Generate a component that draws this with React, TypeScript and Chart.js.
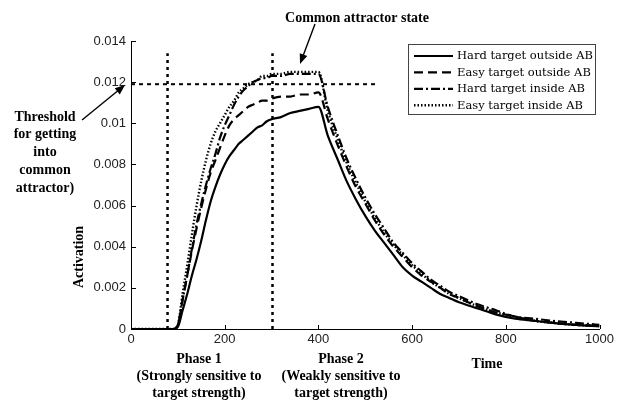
import React, { useEffect, useRef } from "react";
import { Chart, registerables } from "chart.js";
Chart.register(...registerables);

const TIME = [
  0, 90, 100, 110, 120, 130, 140, 150, 160, 170, 180, 190, 200, 210, 220, 230, 240, 250, 260, 270, 280, 290, 300,
  320, 340, 360, 380, 400,
  420, 440, 460, 480, 500, 520, 540, 560, 580, 600, 620, 640, 660, 680, 700,
  740, 780, 820, 860, 900, 950, 1000,
];
const HARD_OUTSIDE = [
  0, 0, 0.0001, 0.0009, 0.0017, 0.0026, 0.0034, 0.0043, 0.0053, 0.0062, 0.0069, 0.0075, 0.008, 0.0084, 0.0087, 0.009, 0.0092, 0.0094, 0.0096, 0.0098, 0.0099, 0.0101, 0.0102,
  0.0103, 0.0105, 0.0106, 0.0107, 0.0108,
  0.0094, 0.0083, 0.0072, 0.0063, 0.0055, 0.0048, 0.0042, 0.0036, 0.003, 0.0026, 0.0023, 0.002, 0.0017, 0.0015, 0.0013,
  0.001, 0.0007, 0.0005, 0.0004, 0.0003, 0.0002, 0.00013,
];
const EASY_OUTSIDE = [
  0, 0, 0.0002, 0.0014, 0.0026, 0.0038, 0.0049, 0.0059, 0.0068, 0.0076, 0.0082, 0.0088, 0.0094, 0.0099, 0.0102, 0.0104, 0.0106, 0.0108, 0.0109, 0.011, 0.0111, 0.0111, 0.0112,
  0.0113, 0.0113, 0.0114, 0.0114, 0.0115,
  0.0102, 0.009, 0.0079, 0.0069, 0.0061, 0.0053, 0.0046, 0.004, 0.0035, 0.003, 0.0026, 0.0023, 0.002, 0.0017, 0.0015,
  0.0011, 0.0008, 0.0006, 0.0004, 0.0003, 0.0002, 0.00015,
];
const HARD_INSIDE = [
  0, 0, 0.0002, 0.0014, 0.0026, 0.0039, 0.0051, 0.0061, 0.007, 0.0078, 0.0085, 0.0093, 0.0099, 0.0104, 0.0109, 0.0113, 0.0116, 0.0118, 0.012, 0.0121, 0.0122, 0.0122, 0.0123,
  0.0123, 0.0124, 0.0124, 0.0124, 0.0124,
  0.0108, 0.0095, 0.0083, 0.0073, 0.0064, 0.0056, 0.0049, 0.0042, 0.0037, 0.0032, 0.0028, 0.0024, 0.0021, 0.0018, 0.0016,
  0.0012, 0.0009, 0.0006, 0.0005, 0.0004, 0.0003, 0.0002,
];
const EASY_INSIDE = [
  0, 0, 0.0002, 0.0017, 0.0031, 0.0046, 0.006, 0.0072, 0.0082, 0.009, 0.0096, 0.01, 0.0104, 0.0108, 0.0111, 0.0115, 0.0117, 0.0119, 0.012, 0.0121, 0.0123, 0.0123, 0.0124,
  0.0124, 0.0125, 0.0125, 0.0125, 0.0125,
  0.0106, 0.0093, 0.0081, 0.0071, 0.0062, 0.0054, 0.0047, 0.0041, 0.0036, 0.0031, 0.0027, 0.0023, 0.002, 0.0017, 0.0015,
  0.0011, 0.0008, 0.0006, 0.0004, 0.0003, 0.0002, 0.00015,
];

const SERIES_LABELS = ["Hard target outside AB", "Easy target outside AB", "Hard target inside AB", "Easy target inside AB"];
const X_TICKS = [0, 200, 400, 600, 800, 1000];
const Y_TICKS = [0, 0.002, 0.004, 0.006, 0.008, 0.01, 0.012, 0.014];
const Y_TICK_LABELS = ["0", "0.002", "0.004", "0.006", "0.008", "0.01", "0.012", "0.014"];
const PHASE_BOUNDS = [78, 302];
const PHASE_LINE_TOP = 0.0134;
const THRESHOLD = 0.0119;
const THRESHOLD_END = 525;

const STYLES = [
  { dash: [] as number[], width: 2.2 },
  { dash: [9, 5], width: 2.2 },
  { dash: [9, 3, 2, 3], width: 2.2 },
  { dash: [1.5, 2], width: 2.4 },
];

function arrow(ctx: CanvasRenderingContext2D, x1: number, y1: number, x2: number, y2: number) {
  ctx.save();
  ctx.strokeStyle = "#000";
  ctx.fillStyle = "#000";
  ctx.lineWidth = 1.4;
  ctx.setLineDash([]);
  const a = Math.atan2(y2 - y1, x2 - x1);
  const hl = 10, hw = 4;
  ctx.beginPath();
  ctx.moveTo(x1, y1);
  ctx.lineTo(x2 - Math.cos(a) * hl * 0.8, y2 - Math.sin(a) * hl * 0.8);
  ctx.stroke();
  ctx.beginPath();
  ctx.moveTo(x2, y2);
  ctx.lineTo(x2 - Math.cos(a) * hl - Math.sin(a) * hw, y2 - Math.sin(a) * hl + Math.cos(a) * hw);
  ctx.lineTo(x2 - Math.cos(a) * hl + Math.sin(a) * hw, y2 - Math.sin(a) * hl - Math.cos(a) * hw);
  ctx.closePath();
  ctx.fill();
  ctx.restore();
}

const decorPlugin = {
  id: "decor",
  afterDraw(chart: any) {
    const ctx: CanvasRenderingContext2D = chart.ctx;
    const xs = chart.scales.x;
    const ys = chart.scales.y;
    const area = chart.chartArea;
    ctx.save();
    // inward ticks
    ctx.strokeStyle = "#000";
    ctx.lineWidth = 1;
    ctx.beginPath();
    for (const v of Y_TICKS) {
      const py = Math.round(ys.getPixelForValue(v)) + 0.5;
      ctx.moveTo(area.left, py);
      ctx.lineTo(area.left + 5, py);
    }
    for (const v of X_TICKS) {
      const px = Math.round(xs.getPixelForValue(v)) + 0.5;
      ctx.moveTo(px, area.bottom);
      ctx.lineTo(px, area.bottom - 4);
    }
    ctx.stroke();

    // legend
    const lx = 408.5, ly = 44.5, lw = 187, lh = 70;
    ctx.fillStyle = "#fff";
    ctx.fillRect(lx, ly, lw, lh);
    ctx.strokeStyle = "#444";
    ctx.lineWidth = 1;
    ctx.strokeRect(lx, ly, lw, lh);
    ctx.font = '11.5px "DejaVu Serif"';
    ctx.textBaseline = "middle";
    ctx.textAlign = "left";
    SERIES_LABELS.forEach((lab, i) => {
      const y = 56 + i * 16.4;
      ctx.strokeStyle = "#000";
      ctx.lineWidth = STYLES[i].width;
      ctx.setLineDash(STYLES[i].dash);
      ctx.beginPath();
      ctx.moveTo(414, y);
      ctx.lineTo(453, y);
      ctx.stroke();
      ctx.setLineDash([]);
      ctx.fillStyle = "#000";
      ctx.fillText(lab, 457, y + 0.5);
    });

    // annotations
    ctx.fillStyle = "#000";
    ctx.font = 'bold 14px "Liberation Serif"';
    ctx.textAlign = "center";
    ctx.textBaseline = "middle";
    ctx.fillText("Common attractor state", 357, 18);
    arrow(ctx, 315, 24, 300, 64);

    ["Threshold", "for getting", "into", "common", "attractor)"].forEach((t, i) => {
      ctx.fillText(t, 45, 117 + i * 17.8);
    });
    arrow(ctx, 82, 120, 125, 85);

    ["Phase 1", "(Strongly sensitive to", "target strength)"].forEach((t, i) => {
      ctx.fillText(t, 199, 359 + i * 17);
    });
    ["Phase 2", "(Weakly sensitive to", "target strength)"].forEach((t, i) => {
      ctx.fillText(t, 341, 359 + i * 17);
    });
    ctx.fillText("Time", 487, 364);

    ctx.save();
    ctx.translate(79, 257);
    ctx.rotate(-Math.PI / 2);
    ctx.fillText("Activation", 0, 0);
    ctx.restore();

    ctx.restore();
  },
};

export default function App() {
  const ref = useRef<HTMLCanvasElement | null>(null);
  useEffect(() => {
    document.body.style.margin = "0";
    const mk = (vals: number[]) => TIME.map((t, i) => ({ x: t, y: vals[i] }));
    const seriesVals = [HARD_OUTSIDE, EASY_OUTSIDE, HARD_INSIDE, EASY_INSIDE];
    const datasets: any[] = seriesVals.map((vals, i) => ({
      label: SERIES_LABELS[i],
      data: mk(vals),
      borderColor: "#000",
      borderWidth: STYLES[i].width,
      borderDash: STYLES[i].dash,
      pointRadius: 0,
      fill: false,
      cubicInterpolationMode: "monotone",
    }));
    PHASE_BOUNDS.forEach((b) => {
      datasets.push({
        label: "phase",
        data: [{ x: b, y: 0 }, { x: b, y: PHASE_LINE_TOP }],
        borderColor: "#000",
        borderWidth: 2.5,
        borderDash: [3, 4],
        pointRadius: 0,
        fill: false,
      });
    });
    datasets.push({
      label: "threshold",
      data: [{ x: 0, y: THRESHOLD }, { x: THRESHOLD_END, y: THRESHOLD }],
      borderColor: "#000",
      borderWidth: 2,
      borderDash: [4, 4],
      pointRadius: 0,
      fill: false,
    });

    const chart = new Chart(ref.current!, {
      type: "line",
      data: { datasets },
      plugins: [decorPlugin],
      options: {
        animation: false,
        responsive: false,
        devicePixelRatio: 1,
        layout: { padding: { left: 0, right: 17, top: 41, bottom: 51 } },
        plugins: { legend: { display: false }, tooltip: { enabled: false } },
        scales: {
          x: {
            type: "linear",
            min: 0,
            max: 1000,
            afterBuildTicks: (s: any) => { s.ticks = X_TICKS.map((v) => ({ value: v })); },
            afterFit: (s: any) => { s.height = 20; },
            grid: { display: false, drawTicks: false },
            border: { display: true, color: "#000", width: 1 },
            ticks: {
              color: "#222",
              font: { family: '"Liberation Sans"', size: 13 },
              padding: 3,
              maxRotation: 0,
              callback: (v: any) => String(v),
            },
          },
          y: {
            type: "linear",
            min: 0,
            max: 0.014,
            afterBuildTicks: (s: any) => { s.ticks = Y_TICKS.map((v) => ({ value: v })); },
            afterFit: (s: any) => { s.width = 131; },
            grid: { display: false, drawTicks: false },
            border: { display: true, color: "#000", width: 1 },
            ticks: {
              color: "#222",
              font: { family: '"Liberation Sans"', size: 13 },
              padding: 5,
              callback: (v: any) => {
                const i = Y_TICKS.findIndex((t) => Math.abs(t - v) < 1e-9);
                return i >= 0 ? Y_TICK_LABELS[i] : "";
              },
            },
          },
        },
      },
    } as any);
    return () => chart.destroy();
  }, []);
  return (
    <div style={{ width: 617, height: 400 }}>
      <canvas ref={ref} width={617} height={400} style={{ display: "block" }} />
    </div>
  );
}
